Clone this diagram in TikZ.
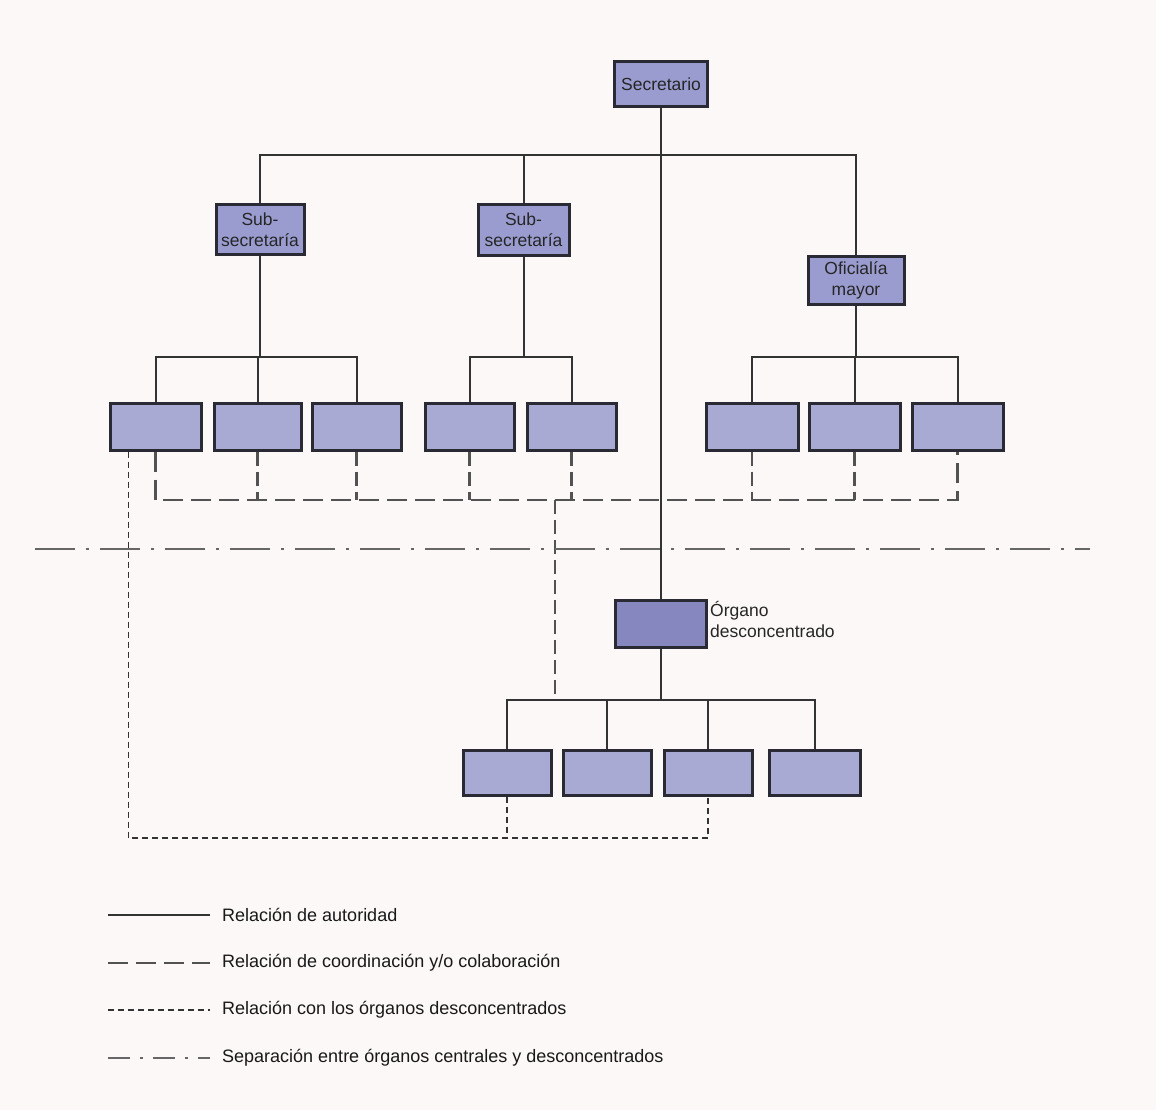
\documentclass[tikz,border=0pt]{standalone}
\usepackage{fontspec}
\setmainfont{Liberation Sans}
\begin{document}
\definecolor{paper}{HTML}{FBF8F7}
\definecolor{boxfill}{HTML}{A8AAD4}
\definecolor{headfill}{HTML}{9A9CD0}
\definecolor{deconfill}{HTML}{8587BE}
\definecolor{boxedge}{HTML}{2A2A34}
\definecolor{ink}{HTML}{333333}
\begin{tikzpicture}[x=1pt,y=-1pt,
  unit/.style={draw=boxedge,line width=3pt,fill=boxfill,inner sep=0pt,
    minimum height=47pt,align=center,font=\fontsize{17.5}{21}\selectfont,text=black!85},
  head/.style={unit,fill=headfill},
  decon/.style={unit,fill=deconfill},
  authority/.style={draw=ink,line width=2pt},
  coord/.style={draw=ink!85,line width=2.2pt,dash pattern=on 20pt off 8pt},
  deconrel/.style={draw=ink,line width=1.8pt,dash pattern=on 6pt off 4pt},
  separation/.style={draw=ink!75,line width=2pt,dash pattern=on 40pt off 11pt on 3pt off 11pt},
  legendtext/.style={anchor=west,inner sep=0pt,font=\fontsize{18}{21}\selectfont,text=black!90}]
  % page
  \fill[paper] (0,0) rectangle (1156,1110);
  \useasboundingbox (0,0) rectangle (1156,1110);

  % bus levels
  \coordinate (topbus) at (0,155);
  \coordinate (rowbus) at (0,357);
  \coordinate (coordbus) at (0,500);
  \coordinate (deconbus) at (0,700);
  \coordinate (relbus) at (0,838);

  % central organs
  \node[head,minimum width=93pt,minimum height=45pt] (sec) at (661,84.5) {Secretario};
  \node[head,minimum width=88pt,minimum height=49pt] (sub1) at (260,229.5) {Sub-\\secretaría};
  \node[head,minimum width=91pt,minimum height=50pt] (sub2) at (523.5,230) {Sub-\\secretaría};
  \node[head,minimum width=96pt,minimum height=48pt] (ofi) at (856,280) {Oficialía\\mayor};

  \node[unit,minimum width=91pt] (a1) at (155.5,426.5) {};
  \node[unit,minimum width=87pt] (a2) at (257.5,426.5) {};
  \node[unit,minimum width=89pt] (a3) at (356.5,426.5) {};
  \node[unit,minimum width=89pt] (b1) at (469.5,426.5) {};
  \node[unit,minimum width=89pt] (b2) at (571.5,426.5) {};
  \node[unit,minimum width=92pt] (c1) at (752,426.5) {};
  \node[unit,minimum width=91pt] (c2) at (854.5,426.5) {};
  \node[unit,minimum width=91pt] (c3) at (957.5,426.5) {};

  % deconcentrated organ
  \node[decon,minimum width=91pt] (org) at (661,623.5) {};
  \node[anchor=north west,inner sep=0pt,align=left,font=\fontsize{17.5}{21}\selectfont,text=black!85]
    (orglabel) at (710,601) {Órgano\\desconcentrado};
  \node[unit,minimum width=88pt,minimum height=45pt] (d1) at (507,772.5) {};
  \node[unit,minimum width=88pt,minimum height=45pt] (d2) at (607,772.5) {};
  \node[unit,minimum width=88pt,minimum height=45pt] (d3) at (708,772.5) {};
  \node[unit,minimum width=91pt,minimum height=45pt] (d4) at (814.5,772.5) {};

  % authority lines
  \draw[authority] (sec.south) -- (org.north);
  \draw[authority] (sub1.north) -- (sub1.north |- topbus) -- (ofi.north |- topbus) -- (ofi.north);
  \draw[authority] (sub2.north) -- (sub2.north |- topbus);
  \draw[authority] (sub1.south) -- (sub1.south |- rowbus);
  \draw[authority] (a1.north) -- (a1.north |- rowbus) -- (a3.north |- rowbus) -- (a3.north);
  \draw[authority] (a2.north) -- (a2.north |- rowbus);
  \draw[authority] (sub2.south) -- (sub2.south |- rowbus);
  \draw[authority] (b1.north) -- (b1.north |- rowbus) -- (b2.north |- rowbus) -- (b2.north);
  \draw[authority] (ofi.south) -- (ofi.south |- rowbus);
  \draw[authority] (c1.north) -- (c1.north |- rowbus) -- (c3.north |- rowbus) -- (c3.north);
  \draw[authority] (c2.north) -- (c2.north |- rowbus);
  \draw[authority] (org.south) -- (org.south |- deconbus);
  \draw[authority] (d1.north) -- (d1.north |- deconbus) -- (d4.north |- deconbus) -- (d4.north);
  \draw[authority] (d2.north) -- (d2.north |- deconbus);
  \draw[authority] (d3.north) -- (d3.north |- deconbus);

  % coordination / collaboration lines
  \draw[coord] (a1.south) -- (a1.south |- coordbus) -- (c3.south |- coordbus) -- (c3.south);
  \foreach \n in {a2,a3,b1,b2,c1,c2}
    \draw[coord,dash pattern=on 14pt off 6pt] (\n.south) -- (\n.south |- coordbus);
  \coordinate (link) at (555,500);
  \draw[coord,dash pattern=on 14pt off 6pt] (link) -- (link |- deconbus);

  % relation with deconcentrated organs
  \coordinate (a1drop) at ([xshift=-27pt]a1.south);
  \draw[deconrel] (a1drop) -- (a1drop |- relbus) -- (d3.south |- relbus) -- (d3.south);
  \draw[deconrel] (d1.south) -- (d1.south |- relbus);

  % separation between central and deconcentrated organs
  \coordinate (sepL) at (35,549);
  \coordinate (sepR) at (1090,549);
  \draw[separation] (sepL) -- (sepR);

  % legend
  \coordinate (l1a) at (108,915);  \coordinate (l1b) at (210,915);
  \coordinate (l2a) at (108,963);  \coordinate (l2b) at (210,963);
  \coordinate (l3a) at (108,1010); \coordinate (l3b) at (210,1010);
  \coordinate (l4a) at (108,1058); \coordinate (l4b) at (210,1058);
  \draw[authority] (l1a) -- (l1b);
  \draw[coord] (l2a) -- (l2b);
  \draw[deconrel] (l3a) -- (l3b);
  \draw[separation,dash pattern=on 22pt off 10pt on 3pt off 10pt] (l4a) -- (l4b);
  \node[legendtext] (t1) at (222,915) {Relación de autoridad};
  \node[legendtext] (t2) at (222,963) {Relación de coordinación y/o colaboración};
  \node[legendtext] (t3) at (222,1010) {Relación con los órganos desconcentrados};
  \node[legendtext] (t4) at (222,1058) {Separación entre órganos centrales y desconcentrados};
\end{tikzpicture}
\end{document}
